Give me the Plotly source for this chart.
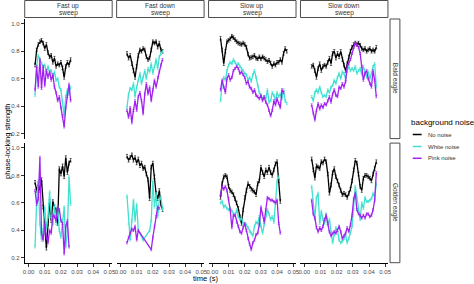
import plotly.graph_objects as go

# ---------------- data ----------------
SWEEPS = ["Fast up|sweep", "Fast down|sweep", "Slow up|sweep", "Slow down|sweep"]
EAGLES = ["Bald eagle", "Golden eagle"]
NOISES = ["No noise", "White noise", "Pink noise"]
X_TICKS = [0.00, 0.01, 0.02, 0.03, 0.04, 0.05]
X_TICK_TEXT = ["0.00", "0.01", "0.02", "0.03", "0.04", "0.05"]
Y_TICKS = [0.2, 0.4, 0.6, 0.8, 1.0]
Y_TICK_TEXT = ["0.2", "0.4", "0.6", "0.8", "1.0"]

T_FAST = [0.004, 0.005, 0.006, 0.007, 0.008, 0.009, 0.010, 0.011, 0.012, 0.013, 0.014,
          0.015, 0.016, 0.017, 0.018, 0.019, 0.020, 0.021, 0.022, 0.023, 0.024, 0.025, 0.026]
T_SLOW_A = [0.005, 0.006, 0.007, 0.008, 0.009, 0.010, 0.011, 0.012, 0.013, 0.014, 0.015,
            0.016, 0.017, 0.018, 0.019, 0.020, 0.021, 0.022, 0.023, 0.024, 0.025, 0.026,
            0.027, 0.028, 0.029, 0.030, 0.031, 0.032, 0.033, 0.034, 0.035, 0.036, 0.037,
            0.038, 0.039, 0.040, 0.041, 0.042, 0.043, 0.044, 0.045, 0.046]
T_SLOW_B = [0.0045, 0.0055, 0.0065, 0.0075, 0.0085, 0.0095, 0.0105, 0.0115, 0.0125, 0.0135,
            0.0145, 0.0155, 0.0165, 0.0175, 0.0185, 0.0195, 0.0205, 0.0215, 0.0225, 0.0235,
            0.0245, 0.0255, 0.0265, 0.0275, 0.0285, 0.0295, 0.0305, 0.0315, 0.0325, 0.0335,
            0.0345, 0.0355, 0.0365, 0.0375, 0.0385, 0.0395, 0.0405, 0.0415, 0.0425, 0.0435,
            0.0445]

# Bald eagle
BALD_FASTUP_NO = [0.70, 0.81, 0.85, 0.87, 0.88, 0.86, 0.82, 0.85, 0.79, 0.76, 0.77, 0.72,
                  0.75, 0.69, 0.71, 0.70, 0.72, 0.68, 0.61, 0.69, 0.72, 0.70, 0.74]
BALD_FASTUP_WHITE = [0.48, 0.69, 0.77, 0.74, 0.71, 0.69, 0.70, 0.65, 0.69, 0.65, 0.66, 0.61,
                     0.65, 0.59, 0.60, 0.54, 0.52, 0.44, 0.33, 0.47, 0.52, 0.49, 0.54]
BALD_FASTUP_PINK = [0.52, 0.69, 0.54, 0.74, 0.53, 0.69, 0.55, 0.66, 0.61, 0.65, 0.59, 0.63,
                    0.54, 0.50, 0.44, 0.47, 0.39, 0.33, 0.25, 0.39, 0.47, 0.56, 0.44]

BALD_FASTDOWN_NO = [0.785, 0.75, 0.77, 0.71, 0.66, 0.61, 0.69, 0.77, 0.81, 0.80, 0.82, 0.81,
                    0.76, 0.74, 0.75, 0.81, 0.87, 0.86, 0.87, 0.83, 0.86, 0.81, 0.80]
BALD_FASTDOWN_WHITE = [0.39, 0.49, 0.53, 0.52, 0.565, 0.47, 0.54, 0.59, 0.64, 0.565, 0.61, 0.66,
                       0.60, 0.675, 0.65, 0.71, 0.64, 0.69, 0.74, 0.675, 0.76, 0.785, 0.80]
BALD_FASTDOWN_PINK = [0.37, 0.32, 0.39, 0.28, 0.37, 0.44, 0.37, 0.47, 0.50, 0.44, 0.345, 0.49,
                      0.565, 0.49, 0.54, 0.44, 0.52, 0.59, 0.54, 0.61, 0.65, 0.70, 0.74]

BALD_SLOWUP_NO = [0.895, 0.81, 0.71, 0.80, 0.87, 0.88, 0.89, 0.91, 0.90, 0.885,
                  0.87, 0.86, 0.855, 0.85, 0.86, 0.85, 0.83, 0.78, 0.75, 0.755,
                  0.76, 0.77, 0.75, 0.745, 0.76, 0.745, 0.76, 0.75, 0.74, 0.725,
                  0.735, 0.715, 0.69, 0.71, 0.70, 0.72, 0.72, 0.74, 0.72, 0.785,
                  0.82, 0.80]
BALD_SLOWUP_WHITE = [0.44, 0.565, 0.61, 0.59, 0.66, 0.70, 0.72, 0.71, 0.74, 0.72,
                     0.70, 0.71, 0.69, 0.675, 0.66, 0.64, 0.63, 0.59, 0.61, 0.58,
                     0.63, 0.66, 0.61, 0.55, 0.50, 0.48, 0.455, 0.47, 0.455, 0.52,
                     0.43, 0.44, 0.50, 0.48, 0.44, 0.50, 0.47, 0.49, 0.455, 0.52,
                     0.44, 0.42]
BALD_SLOWUP_PINK = [0.52, 0.59, 0.54, 0.50, 0.60, 0.63, 0.59, 0.61, 0.66, 0.675,
                    0.69, 0.675, 0.64, 0.65, 0.63, 0.61, 0.565, 0.58, 0.54, 0.53,
                    0.50, 0.52, 0.48, 0.47, 0.455, 0.48, 0.44, 0.47, 0.43, 0.41,
                    0.37, 0.33, 0.37, 0.44, 0.41, 0.455, 0.42, 0.39, 0.52, 0.50]

BALD_SLOWDOWN_NO = [0.69, 0.70, 0.66, 0.61, 0.675, 0.71, 0.66, 0.69, 0.70, 0.69,
                    0.72, 0.75, 0.71, 0.785, 0.80, 0.75, 0.785, 0.76, 0.80, 0.74,
                    0.70, 0.66, 0.71, 0.76, 0.80, 0.83, 0.85, 0.86, 0.85, 0.86,
                    0.845, 0.82, 0.81, 0.82, 0.80, 0.81, 0.82, 0.80, 0.81, 0.80, 0.83]
BALD_SLOWDOWN_WHITE = [0.47, 0.44, 0.50, 0.52, 0.50, 0.54, 0.50, 0.47, 0.48, 0.47,
                       0.52, 0.50, 0.54, 0.55, 0.59, 0.565, 0.61, 0.64, 0.60, 0.65,
                       0.64, 0.60, 0.66, 0.69, 0.66, 0.675, 0.66, 0.69, 0.64, 0.66,
                       0.675, 0.63, 0.69, 0.65, 0.61, 0.65, 0.60, 0.64, 0.69, 0.71, 0.54]
BALD_SLOWDOWN_PINK = [0.41, 0.35, 0.30, 0.37, 0.42, 0.38, 0.41, 0.39, 0.42, 0.41,
                      0.44, 0.47, 0.43, 0.49, 0.52, 0.48, 0.47, 0.54, 0.53, 0.565,
                      0.54, 0.58, 0.69, 0.71, 0.74, 0.785, 0.83, 0.86, 0.845, 0.83,
                      0.785, 0.69, 0.59, 0.64, 0.66, 0.60, 0.565, 0.54, 0.66, 0.59, 0.47]

# Golden eagle
GOLD_FASTUP_NO = [0.75, 0.69, 0.74, 0.69, 0.77, 0.57, 0.43, 0.27, 0.45, 0.61, 0.47, 0.61,
                  0.57, 0.55, 0.45, 0.85, 0.81, 0.87, 0.79, 0.93, 0.82, 0.89, 0.91]
GOLD_FASTUP_WHITE = [0.28, 0.62, 0.76, 0.45, 0.33, 0.40, 0.57, 0.41, 0.50, 0.68, 0.50, 0.44,
                     0.58, 0.45, 0.57, 0.40, 0.35, 0.47, 0.57, 0.28, 0.40, 0.79, 0.59]
GOLD_FASTUP_PINK = [0.69, 0.59, 0.63, 0.93, 0.38, 0.33, 0.45, 0.35, 0.31, 0.40, 0.38, 0.51,
                    0.50, 0.47, 0.57, 0.55, 0.47, 0.45, 0.23, 0.43, 0.47, 0.28]

GOLD_FASTDOWN_NO = [0.94, 0.91, 0.93, 0.95, 0.91, 0.93, 0.89, 0.92, 0.87, 0.89, 0.85, 0.86,
                    0.81, 0.77, 0.63, 0.86, 0.89, 0.79, 0.67, 0.63, 0.69, 0.59, 0.55]
GOLD_FASTDOWN_WHITE_T = [0.004, 0.005, 0.006, 0.007, 0.008, 0.009, 0.010, 0.011, 0.014,
                         0.018, 0.019, 0.020, 0.021, 0.022, 0.023, 0.024, 0.025, 0.026]
GOLD_FASTDOWN_WHITE = [0.65, 0.45, 0.33, 0.47, 0.62, 0.47, 0.59, 0.40, 0.33,
                       0.40, 0.47, 0.76, 0.57, 0.67, 0.50, 0.62, 0.64, 0.55]
GOLD_FASTDOWN_PINK_T = [0.004, 0.005, 0.006, 0.007, 0.008, 0.009, 0.010, 0.011,
                        0.019, 0.020, 0.021, 0.022, 0.023, 0.024]
GOLD_FASTDOWN_PINK = [0.31, 0.35, 0.38, 0.41, 0.40, 0.43, 0.33, 0.40,
                      0.26, 0.35, 0.43, 0.50, 0.57, 0.56]

GOLD_SLOWUP_NO = [0.64, 0.74, 0.79, 0.80, 0.79, 0.72, 0.69, 0.68, 0.66, 0.63,
                  0.60, 0.56, 0.50, 0.45, 0.55, 0.64, 0.69, 0.74, 0.72, 0.70,
                  0.69, 0.68, 0.66, 0.74, 0.76, 0.86, 0.82, 0.79, 0.84, 0.82,
                  0.86, 0.82, 0.80, 0.84, 0.885, 0.90, 0.76, 0.61]
GOLD_SLOWUP_WHITE = [0.60, 0.61, 0.57, 0.58, 0.56, 0.55, 0.56, 0.54, 0.52, 0.51,
                     0.55, 0.50, 0.48, 0.49, 0.45, 0.45, 0.44, 0.42, 0.39, 0.38,
                     0.36, 0.43, 0.46, 0.45, 0.50, 0.43, 0.38, 0.44, 0.51, 0.55,
                     0.52, 0.48, 0.50, 0.46, 0.60, 0.76, 0.79]
GOLD_SLOWUP_PINK = [0.655, 0.72, 0.70, 0.72, 0.69, 0.63, 0.55, 0.42, 0.51, 0.51,
                    0.46, 0.43, 0.39, 0.38, 0.42, 0.45, 0.40, 0.34, 0.30, 0.26,
                    0.31, 0.33, 0.37, 0.38, 0.44, 0.57, 0.52, 0.46, 0.55, 0.64,
                    0.63, 0.62, 0.62, 0.61, 0.60, 0.62, 0.45, 0.38]

GOLD_SLOWDOWN_NO = [0.92, 0.84, 0.78, 0.87, 0.86, 0.85, 0.90, 0.89, 0.92, 0.90,
                    0.81, 0.67, 0.73, 0.82, 0.85, 0.79, 0.76, 0.73, 0.69, 0.66,
                    0.67, 0.66, 0.64, 0.67, 0.70, 0.76, 0.84, 0.91, 0.89, 0.81,
                    0.72, 0.69, 0.78, 0.80, 0.80, 0.79, 0.78, 0.76, 0.81, 0.85, 0.90]
GOLD_SLOWDOWN_WHITE = [0.72, 0.58, 0.49, 0.64, 0.67, 0.45, 0.54, 0.48, 0.45, 0.52,
                       0.44, 0.48, 0.38, 0.31, 0.37, 0.42, 0.40, 0.33, 0.31, 0.32,
                       0.34, 0.37, 0.31, 0.34, 0.38, 0.43, 0.55, 0.72, 0.64, 0.55,
                       0.48, 0.60, 0.56, 0.64, 0.61, 0.61, 0.62, 0.63, 0.67, 0.64, 0.74]
GOLD_SLOWDOWN_PINK = [0.62, 0.52, 0.49, 0.42, 0.39, 0.42, 0.40, 0.43, 0.48, 0.51,
                      0.45, 0.39, 0.36, 0.38, 0.39, 0.38, 0.40, 0.43, 0.39, 0.34,
                      0.36, 0.38, 0.42, 0.39, 0.44, 0.51, 0.63, 0.67, 0.55, 0.52,
                      0.51, 0.49, 0.51, 0.49, 0.52, 0.52, 0.50, 0.51, 0.55, 0.62, 0.82]

# panel -> list of (noise, times, values)
PANELS = {
    (0, 0): [("No noise", T_FAST, BALD_FASTUP_NO), ("White noise", T_FAST, BALD_FASTUP_WHITE),
             ("Pink noise", T_FAST, BALD_FASTUP_PINK)],
    (0, 1): [("No noise", T_FAST, BALD_FASTDOWN_NO), ("White noise", T_FAST, BALD_FASTDOWN_WHITE),
             ("Pink noise", T_FAST, BALD_FASTDOWN_PINK)],
    (0, 2): [("No noise", T_SLOW_A, BALD_SLOWUP_NO), ("White noise", T_SLOW_A, BALD_SLOWUP_WHITE),
             ("Pink noise", T_SLOW_A[:len(BALD_SLOWUP_PINK)], BALD_SLOWUP_PINK)],
    (0, 3): [("No noise", T_SLOW_B, BALD_SLOWDOWN_NO), ("White noise", T_SLOW_B, BALD_SLOWDOWN_WHITE),
             ("Pink noise", T_SLOW_B, BALD_SLOWDOWN_PINK)],
    (1, 0): [("No noise", T_FAST, GOLD_FASTUP_NO), ("White noise", T_FAST, GOLD_FASTUP_WHITE),
             ("Pink noise", T_FAST[:len(GOLD_FASTUP_PINK)], GOLD_FASTUP_PINK)],
    (1, 1): [("No noise", T_FAST, GOLD_FASTDOWN_NO),
             ("White noise", GOLD_FASTDOWN_WHITE_T, GOLD_FASTDOWN_WHITE),
             ("Pink noise", GOLD_FASTDOWN_PINK_T, GOLD_FASTDOWN_PINK)],
    (1, 2): [("No noise", T_SLOW_A[:len(GOLD_SLOWUP_NO)], GOLD_SLOWUP_NO),
             ("White noise", T_SLOW_A[:len(GOLD_SLOWUP_WHITE)], GOLD_SLOWUP_WHITE),
             ("Pink noise", T_SLOW_A[:len(GOLD_SLOWUP_PINK)], GOLD_SLOWUP_PINK)],
    (1, 3): [("No noise", T_SLOW_B, GOLD_SLOWDOWN_NO), ("White noise", T_SLOW_B, GOLD_SLOWDOWN_WHITE),
             ("Pink noise", T_SLOW_B, GOLD_SLOWDOWN_PINK)],
}

# ---------------- styling / layout ----------------
W, H = 474, 284
FONT = "Liberation Sans"
COLORS = {"No noise": "#000000", "White noise": "#40E0D0", "Pink noise": "#A020F0"}
ERR = {"No noise": 0.013, "White noise": 0.008, "Pink noise": 0.008}
COL_PX = [(23, 111.6), (116.1, 204.7), (209.2, 297.8), (302.3, 390.9)]
ROW_PX = [(19, 138.6), (143.1, 262.7)]
STRIP_TOP_PX = (0.5, 17.5)
STRIP_RIGHT_PX = (393, 403)
X_RANGE = [-0.0024, 0.0517]
Y_RANGE = [0.165, 1.035]


def fx(x):
    return x / W


def fy(y):
    return 1 - y / H


fig = go.Figure()
layout = dict(width=W, height=H, margin=dict(l=0, r=0, t=0, b=0),
              paper_bgcolor="white", plot_bgcolor="white", showlegend=False,
              font=dict(family=FONT, size=7, color="#333333"))

for r in range(2):
    for c in range(4):
        n = r * 4 + c + 1
        xs = "" if n == 1 else str(n)
        bottom = r == 1
        left = c == 0
        layout["xaxis" + xs] = dict(
            domain=[fx(COL_PX[c][0]), fx(COL_PX[c][1])], range=X_RANGE, anchor="y" + xs,
            tickvals=X_TICKS, ticktext=X_TICK_TEXT, showgrid=False, zeroline=False,
            showline=bottom, linecolor="#000000", linewidth=1,
            ticks="outside" if bottom else "", ticklen=3, tickwidth=1, tickcolor="#333333",
            showticklabels=bottom, tickfont=dict(family=FONT, size=6, color="#4d4d4d"))
        layout["yaxis" + xs] = dict(
            domain=[fy(ROW_PX[r][1]), fy(ROW_PX[r][0])], range=Y_RANGE, anchor="x" + xs,
            tickvals=Y_TICKS, ticktext=Y_TICK_TEXT, showgrid=False, zeroline=False,
            showline=left, linecolor="#000000", linewidth=1,
            ticks="outside" if left else "", ticklen=3, tickwidth=1, tickcolor="#333333",
            showticklabels=left, tickfont=dict(family=FONT, size=6, color="#4d4d4d"))
        for noise, t, v in PANELS[(r, c)]:
            col = COLORS[noise]
            fig.add_trace(go.Scatter(
                x=t, y=v, mode="lines", name=noise, xaxis="x" + xs, yaxis="y" + xs,
                line=dict(color=col, width=1.3),
                error_y=dict(type="constant", value=ERR[noise], thickness=0.6, width=1,
                             color=col)))

shapes = []
annotations = []
# top strips
for c, lab in enumerate(SWEEPS):
    x0, x1 = COL_PX[c]
    shapes.append(dict(type="rect", xref="paper", yref="paper", x0=fx(x0), x1=fx(x1),
                       y0=fy(STRIP_TOP_PX[1]), y1=fy(STRIP_TOP_PX[0]),
                       line=dict(color="#4d4d4d", width=1), fillcolor="white"))
    l1, l2 = lab.split("|")
    for txt, yy in ((l1, 5.5), (l2, 12.5)):
        annotations.append(dict(text=txt, xref="paper", yref="paper", x=fx((x0 + x1) / 2),
                                y=fy(yy), showarrow=False, xanchor="center", yanchor="middle",
                                font=dict(family=FONT, size=6.5, color="#333333")))
# right strips
for r, lab in enumerate(EAGLES):
    y0, y1 = ROW_PX[r]
    shapes.append(dict(type="rect", xref="paper", yref="paper", x0=fx(STRIP_RIGHT_PX[0]),
                       x1=fx(STRIP_RIGHT_PX[1]), y0=fy(y1), y1=fy(y0),
                       line=dict(color="#4d4d4d", width=1), fillcolor="white"))
    annotations.append(dict(text=lab, xref="paper", yref="paper",
                            x=fx(sum(STRIP_RIGHT_PX) / 2), y=fy((y0 + y1) / 2), showarrow=False,
                            textangle=90, xanchor="center", yanchor="middle",
                            font=dict(family=FONT, size=6.5, color="#333333")))
# axis titles
annotations.append(dict(text="time (s)", xref="paper", yref="paper", x=fx(207), y=fy(278),
                        showarrow=False, xanchor="center", yanchor="middle",
                        font=dict(family=FONT, size=7.5, color="#000000")))
annotations.append(dict(text="phase-locking strength", xref="paper", yref="paper", x=fx(5),
                        y=fy(141), showarrow=False, textangle=-90, xanchor="center",
                        yanchor="middle", font=dict(family=FONT, size=7.5, color="#000000")))
# legend
annotations.append(dict(text="background noise", xref="paper", yref="paper", x=fx(412),
                        y=fy(122), showarrow=False, xanchor="left", yanchor="middle",
                        font=dict(family=FONT, size=8, color="#000000")))
for i, noise in enumerate(NOISES):
    yy = [134.5, 146.5, 158.3][i]
    shapes.append(dict(type="line", xref="paper", yref="paper", x0=fx(416), x1=fx(425),
                       y0=fy(yy), y1=fy(yy), line=dict(color=COLORS[noise], width=1.5)))
    annotations.append(dict(text=noise, xref="paper", yref="paper", x=fx(429), y=fy(yy),
                            showarrow=False, xanchor="left", yanchor="middle",
                            font=dict(family=FONT, size=6, color="#333333")))

layout["shapes"] = shapes
layout["annotations"] = annotations
fig.update_layout(**layout)
fig.write_html("out.html")
